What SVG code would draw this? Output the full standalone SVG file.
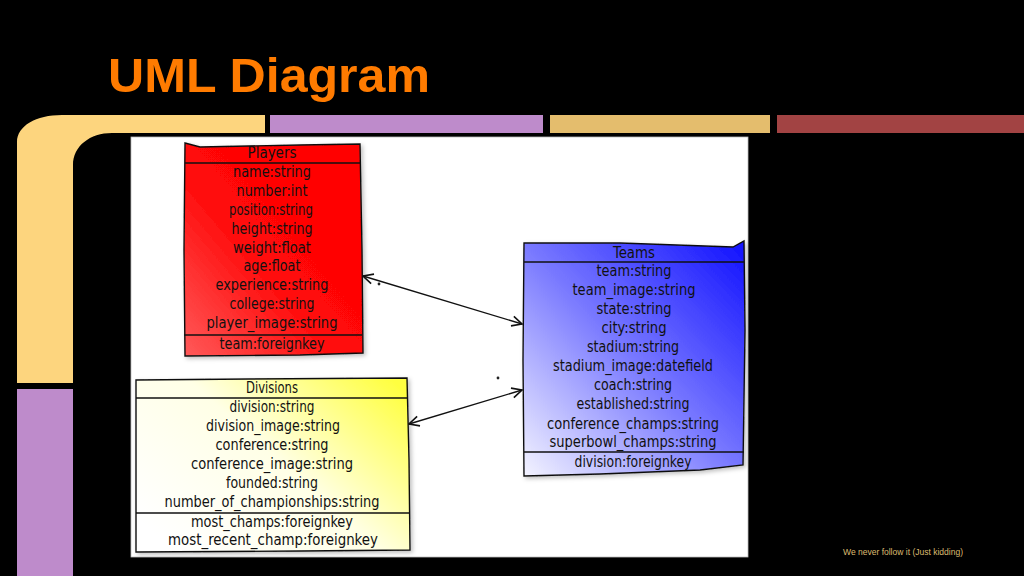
<svg xmlns="http://www.w3.org/2000/svg" width="1024" height="576" viewBox="0 0 1024 576">
<defs>
<linearGradient id="gRed" x1="0" y1="1" x2="1" y2="0">
<stop offset="0" stop-color="#ff5a5a"/><stop offset="0.45" stop-color="#ff0808"/><stop offset="1" stop-color="#ff0000"/>
</linearGradient>
<linearGradient id="gBlue" x1="0" y1="1" x2="1" y2="0">
<stop offset="0" stop-color="#f4f4ff"/><stop offset="0.5" stop-color="#7878ff"/><stop offset="1" stop-color="#1010ff"/>
</linearGradient>
<linearGradient id="gYel" x1="0" y1="0.8" x2="1" y2="0.1">
<stop offset="0" stop-color="#ffffff"/><stop offset="0.5" stop-color="#ffffe6"/><stop offset="1" stop-color="#ffff40"/>
</linearGradient>
<filter id="sh" x="-10%" y="-10%" width="130%" height="130%">
<feDropShadow dx="2" dy="2" stdDeviation="2" flood-color="#000" flood-opacity="0.25"/>
</filter>
<marker id="ah" viewBox="0 0 12 12" refX="11" refY="6" markerWidth="12" markerHeight="12" markerUnits="userSpaceOnUse" orient="auto-start-reverse">
<path d="M1,1 L11,6 L1,11" fill="none" stroke="#111" stroke-width="1.6" stroke-linejoin="miter"/>
</marker>
</defs>
<style>
.box{stroke:#111;stroke-width:1.4;filter:url(#sh)}
.ln{stroke:#111;stroke-width:1.3;fill:none}
.t{font-family:"Liberation Sans Narrow","DejaVu Sans Condensed","Liberation Sans",sans-serif;font-size:15px;fill:#111;text-anchor:middle}
.con{stroke:#111;stroke-width:1.4;fill:none}
</style>
<rect x="0" y="0" width="1024" height="576" fill="#000"/>
<text x="108" y="92" font-family="Liberation Sans, Arial, sans-serif" font-weight="bold" font-size="49" fill="#ff7b00" textLength="322" lengthAdjust="spacingAndGlyphs">UML Diagram</text>
<path d="M17,383 L17,142 C17,126 36,115 62,115 L265,115 L265,133 L112,133 C90,133 73,146 73,165 L73,383 Z" fill="#fdd57e"/>
<rect x="17" y="389" width="56" height="187" fill="#be8bcb"/>
<rect x="270" y="115" width="273" height="18" fill="#be8bcb"/>
<rect x="550" y="115" width="220" height="18" fill="#e4bd6d"/>
<rect x="777" y="115" width="247" height="18" fill="#a24343"/>
<rect x="131" y="137" width="617" height="420" fill="#fff" stroke="#bbb" stroke-width="0.8"/>
<text x="843" y="555" font-family="Liberation Sans, Arial, sans-serif" font-size="9" fill="#dcbb70" textLength="120" lengthAdjust="spacingAndGlyphs">We never follow it (Just kidding)</text>

<g id="players">
<path class="box" d="M185,143 L200,147 L300,145 L360,144 L362,250 L363,353 L300,355 L185,356 L184,250 Z" fill="url(#gRed)"/>
<path class="ln" d="M185,163 L361,163"/>
<path class="ln" d="M184,335 L362,335"/>
<text class="t" x="272" y="158" textLength="49" lengthAdjust="spacingAndGlyphs">Players</text>
<text class="t" x="272" y="177" textLength="78" lengthAdjust="spacingAndGlyphs">name:string</text>
<text class="t" x="272" y="196" textLength="71" lengthAdjust="spacingAndGlyphs">number:int</text>
<text class="t" x="271" y="215" textLength="84" lengthAdjust="spacingAndGlyphs">position:string</text>
<text class="t" x="272" y="234" textLength="81" lengthAdjust="spacingAndGlyphs">height:string</text>
<text class="t" x="272" y="253" textLength="78" lengthAdjust="spacingAndGlyphs">weight:float</text>
<text class="t" x="272" y="271" textLength="57" lengthAdjust="spacingAndGlyphs">age:float</text>
<text class="t" x="272" y="290" textLength="113" lengthAdjust="spacingAndGlyphs">experience:string</text>
<text class="t" x="272" y="309" textLength="85" lengthAdjust="spacingAndGlyphs">college:string</text>
<text class="t" x="272" y="328" textLength="131" lengthAdjust="spacingAndGlyphs">player_image:string</text>
<text class="t" x="272" y="349" textLength="105" lengthAdjust="spacingAndGlyphs">team:foreignkey</text>
</g>

<g id="teams">
<path class="box" d="M524,243 L620,243 L733,247 L744,241 L745,330 L743,465 L700,470 L600,474 L524,476 L523,360 Z" fill="url(#gBlue)"/>
<path class="ln" d="M524,262 L744,262"/>
<path class="ln" d="M524,452 L744,452"/>
<text class="t" x="634" y="258" textLength="42" lengthAdjust="spacingAndGlyphs">Teams</text>
<text class="t" x="634" y="276" textLength="75" lengthAdjust="spacingAndGlyphs">team:string</text>
<text class="t" x="634" y="295" textLength="123" lengthAdjust="spacingAndGlyphs">team_image:string</text>
<text class="t" x="634" y="314" textLength="75" lengthAdjust="spacingAndGlyphs">state:string</text>
<text class="t" x="634" y="333" textLength="65" lengthAdjust="spacingAndGlyphs">city:string</text>
<text class="t" x="633" y="352" textLength="92" lengthAdjust="spacingAndGlyphs">stadium:string</text>
<text class="t" x="633" y="371" textLength="160" lengthAdjust="spacingAndGlyphs">stadium_image:datefield</text>
<text class="t" x="633" y="390" textLength="78" lengthAdjust="spacingAndGlyphs">coach:string</text>
<text class="t" x="633" y="409" textLength="113" lengthAdjust="spacingAndGlyphs">established:string</text>
<text class="t" x="633" y="429" textLength="172" lengthAdjust="spacingAndGlyphs">conference_champs:string</text>
<text class="t" x="633" y="447" textLength="167" lengthAdjust="spacingAndGlyphs">superbowl_champs:string</text>
<text class="t" x="633" y="467" textLength="117" lengthAdjust="spacingAndGlyphs">division:foreignkey</text>
</g>

<g id="divisions">
<path class="box" d="M136,380 L250,379 L407,378 L409,460 L410,550 L300,551 L136,552 L136,460 Z" fill="url(#gYel)"/>
<path class="ln" d="M136,398 L408,398"/>
<path class="ln" d="M136,513 L409,513"/>
<text class="t" x="272" y="393" textLength="52" lengthAdjust="spacingAndGlyphs">Divisions</text>
<text class="t" x="272" y="412" textLength="85" lengthAdjust="spacingAndGlyphs">division:string</text>
<text class="t" x="273" y="431" textLength="134" lengthAdjust="spacingAndGlyphs">division_image:string</text>
<text class="t" x="272" y="450" textLength="113" lengthAdjust="spacingAndGlyphs">conference:string</text>
<text class="t" x="272" y="469" textLength="162" lengthAdjust="spacingAndGlyphs">conference_image:string</text>
<text class="t" x="272" y="488" textLength="92" lengthAdjust="spacingAndGlyphs">founded:string</text>
<text class="t" x="272" y="507" textLength="215" lengthAdjust="spacingAndGlyphs">number_of_championships:string</text>
<text class="t" x="272" y="527" textLength="162" lengthAdjust="spacingAndGlyphs">most_champs:foreignkey</text>
<text class="t" x="273" y="545" textLength="210" lengthAdjust="spacingAndGlyphs">most_recent_champ:foreignkey</text>
</g>

<g id="connectors">
<path class="con" d="M363,276 L522,324" marker-start="url(#ah)" marker-end="url(#ah)"/>
<path class="con" d="M409,424 L522,390" marker-start="url(#ah)" marker-end="url(#ah)"/>
<circle cx="379" cy="284" r="1.4" fill="#222"/>
<circle cx="498" cy="378" r="1.4" fill="#222"/>
</g>
</svg>
